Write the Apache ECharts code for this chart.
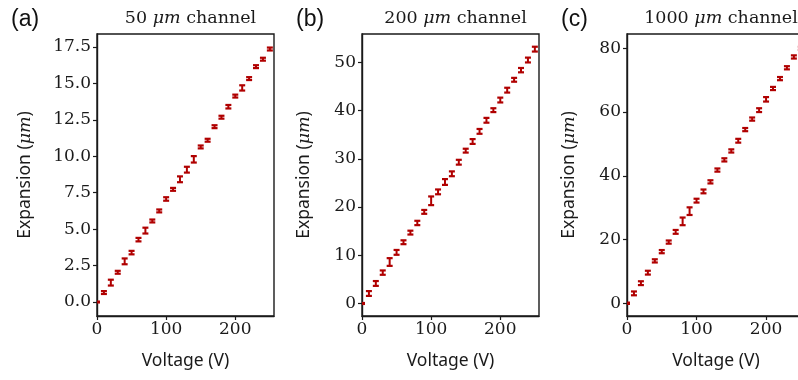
<!DOCTYPE html>
<html>
<head>
<meta charset="utf-8">
<script src="https://cdn.jsdelivr.net/npm/echarts@6/dist/echarts.min.js"></script>
<style>html,body{margin:0;padding:0;background:#fff;}#c{width:798px;height:380px;}</style>
</head>
<body>
<div id="c"></div>
<script>
// ---- data ----
const voltage = [0,10,20,30,40,50,60,70,80,90,100,110,120,130,140,150,160,170,180,190,200,210,220,230,240,250];
const exp50   = [0,0.65,1.33,2.04,2.79,3.39,4.28,4.9,5.56,6.25,7.07,7.73,8.42,9.08,9.79,10.64,11.1,12.03,12.68,13.4,14.13,14.69,15.33,16.15,16.66,17.36];
const err50   = [0.03,0.1,0.2,0.1,0.2,0.12,0.12,0.2,0.1,0.1,0.12,0.1,0.2,0.2,0.22,0.1,0.1,0.1,0.1,0.12,0.1,0.18,0.1,0.1,0.1,0.1];
const exp200  = [0,2.07,4.15,6.4,8.6,10.6,12.7,14.7,16.7,19.0,21.3,23.15,25.2,26.9,29.3,31.7,33.6,35.7,38.0,40.1,42.2,44.25,46.4,48.4,50.5,52.76];
const err200  = [0.1,0.5,0.5,0.45,0.8,0.5,0.4,0.4,0.45,0.4,0.9,0.5,0.6,0.5,0.5,0.4,0.5,0.5,0.5,0.4,0.5,0.5,0.4,0.45,0.5,0.5];
const exp1000 = [0,3.1,6.3,9.6,13.3,16.2,19.2,22.4,25.7,28.9,32.2,35.1,38.1,41.8,45.0,47.8,51.0,54.5,57.8,60.6,64.0,67.4,70.5,73.9,77.3,80.0];
const err1000 = [0.2,0.6,0.6,0.6,0.5,0.5,0.5,0.6,1.2,1.2,0.6,0.6,0.5,0.5,0.5,0.5,0.6,0.5,0.5,0.6,0.7,0.5,0.5,0.5,0.5,0.5];
const xTicks   = [0,100,200];
const yTicks50   = [0,2.5,5,7.5,10,12.5,15,17.5];
const yTicks200  = [0,10,20,30,40,50];
const yTicks1000 = [0,20,40,60,80];
const titles = ['50 {i|μm} channel','200 {i|μm} channel','1000 {i|μm} channel'];
const panelLabels = ['(a)','(b)','(c)'];

// ---- layout ----
const grids = [
  {left:97, top:34, width:177, height:282},
  {left:362, top:34, width:177, height:282},
  {left:627, top:34, width:178, height:282}
];
const yRanges = [[-0.96,18.39],[-2.6,55.9],[-4.0,84.5]];
const yTicksAll = [yTicks50,yTicks200,yTicks1000];
const yFmt = [v=>v.toFixed(1), v=>String(v), v=>String(v)];
const yNameGap = [63,49,49];
const series = [[exp50,err50],[exp200,err200],[exp1000,err1000]];
const RED = '#b00000';
const INK = '#1a1a1a';
const serif = 'DejaVu Serif';
const sans = 'Noto Sans';

function renderErr(params, api){
  const x = api.value(0), y = api.value(1), e = api.value(2);
  const t = api.coord([x, y+e]);
  const b = api.coord([x, y-e]);
  const hw = 3;
  const st = {stroke: RED, lineWidth: 2.2};
  return {type:'group', children:[
    {type:'line', shape:{x1:t[0],y1:t[1],x2:b[0],y2:b[1]}, style:{stroke:RED,lineWidth:2}},
    {type:'line', shape:{x1:t[0]-hw,y1:t[1],x2:t[0]+hw,y2:t[1]}, style:st},
    {type:'line', shape:{x1:b[0]-hw,y1:b[1],x2:b[0]+hw,y2:b[1]}, style:st}
  ]};
}

const option = {
  animation:false,
  backgroundColor:'#fff',
  title: [],
  grid: grids.map(g=>Object.assign({show:true, borderColor:INK, borderWidth:1.4, backgroundColor:'transparent', containLabel:false, outerBoundsMode:'none'}, g)),
  xAxis: [], yAxis: [], series: []
};

for (let k=0;k<3;k++){
  const g = grids[k];
  option.title.push({
    text: titles[k], left: g.left + g.width/2, top: 4, textAlign:'center',
    textStyle:{fontFamily:serif, fontSize:17.5, fontWeight:'normal', color:INK,
      rich:{i:{fontFamily:serif, fontStyle:'italic', fontSize:17.5, color:INK}}}
  });
  option.title.push({
    text: panelLabels[k], left: [6,291,556][k], top: 3,
    textStyle:{fontFamily:'Liberation Sans', fontSize:23, fontWeight:'normal', color:'#111'}
  });
  option.xAxis.push({
    type:'value', gridIndex:k, min:0, max:256,
    name:'Voltage (V)', nameLocation:'middle', nameGap:36,
    nameTextStyle:{fontFamily:sans, fontSize:17.5, color:INK},
    axisLine:{show:true, onZero:false, lineStyle:{color:INK, width:1.4}},
    axisTick:{show:true, length:4, customValues:xTicks, lineStyle:{color:INK, width:1.2}},
    axisLabel:{customValues:xTicks, fontFamily:serif, fontSize:17, color:INK, margin:5},
    splitLine:{show:false}
  });
  option.yAxis.push({
    type:'value', gridIndex:k, min:yRanges[k][0], max:yRanges[k][1],
    name:'Expansion ({i|μm})', nameLocation:'middle', nameGap:yNameGap[k],
    nameTextStyle:{fontFamily:sans, fontSize:17.5, color:INK,
      rich:{i:{fontFamily:serif, fontStyle:'italic', fontSize:17.5, color:INK}}},
    axisLine:{show:true, onZero:false, lineStyle:{color:INK, width:1.4}},
    axisTick:{show:true, length:4, customValues:yTicksAll[k], lineStyle:{color:INK, width:1.2}},
    axisLabel:{customValues:yTicksAll[k], formatter:yFmt[k], fontFamily:serif, fontSize:17, color:INK, margin:6},
    splitLine:{show:false}
  });
  option.series.push({
    type:'custom', xAxisIndex:k, yAxisIndex:k, clip:true,
    renderItem: renderErr,
    encode:{x:0, y:1},
    data: voltage.map((v,i)=>[v, series[k][0][i], series[k][1][i]])
  });
}

const chart = echarts.init(document.getElementById('c'), null, {renderer:'canvas'});
chart.setOption(option);
</script>
</body>
</html>
